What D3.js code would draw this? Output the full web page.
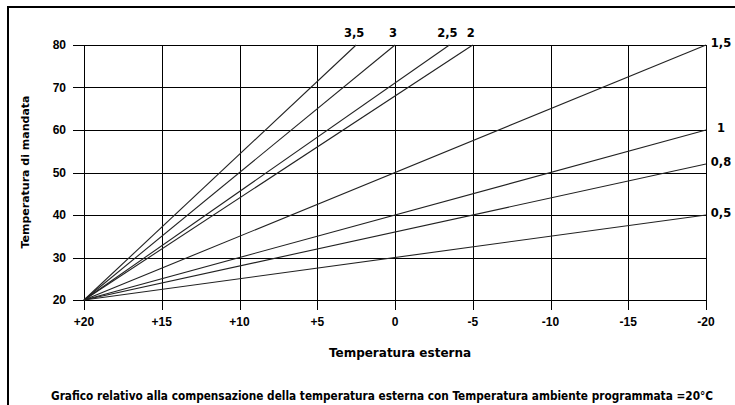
<!DOCTYPE html>
<html>
<head>
<meta charset="utf-8">
<script src="https://cdn.jsdelivr.net/npm/d3@7"></script>
<style>
  html, body { margin: 0; padding: 0; background: #fff; }
  text { font-family: "Liberation Sans", Arial, sans-serif; font-weight: bold; fill: #000; }
</style>
</head>
<body>
<figure id="chart" style="margin:0"></figure>
<script>
// curve labels and where each curve ends (external temp, flow temp)
const curveLabels = ["3,5", "3", "2,5", "2", "1,5", "1", "0,8", "0,5"];
const curveEndExt = [2.5, 0, -3.5, -5, -20, -20, -20, -20];
const curveEndFlow = [80, 80, 80, 80, 80, 60, 52, 40];
const startExt = 20;
const startFlow = 20;

const xTicks = [20, 15, 10, 5, 0, -5, -10, -15, -20];
const xTickLabels = ["+20", "+15", "+10", "+5", "0", "-5", "-10", "-15", "-20"];
const yTicks = [20, 30, 40, 50, 60, 70, 80];

const width = 735, height = 405;
const plotLeft = 84, plotRight = 706, plotTop = 45, plotBottom = 300;

const svg = d3.select("#chart")
  .append("svg")
  .attr("width", width)
  .attr("height", height);

// frame
svg.append("path")
  .attr("d", `M8,${height} L8,7 L${width},7`)
  .attr("fill", "none")
  .attr("stroke", "#000")
  .attr("stroke-width", 2);

const x = d3.scaleLinear().domain([20, -20]).range([plotLeft, plotRight]);
const y = d3.scaleLinear().domain([20, 80]).range([plotBottom, plotTop]);

// vertical grid
svg.append("g")
  .selectAll("line")
  .data(xTicks)
  .enter()
  .append("line")
  .attr("x1", d => Math.round(x(d)) + 0.5)
  .attr("x2", d => Math.round(x(d)) + 0.5)
  .attr("y1", plotTop)
  .attr("y2", plotBottom + 10)
  .attr("stroke", "#000");

// horizontal grid
svg.append("g")
  .selectAll("line")
  .data(yTicks)
  .enter()
  .append("line")
  .attr("x1", plotLeft - 11)
  .attr("x2", plotRight)
  .attr("y1", d => Math.round(y(d)) + 0.5)
  .attr("y2", d => Math.round(y(d)) + 0.5)
  .attr("stroke", "#000");

// x tick labels
svg.append("g")
  .selectAll("text")
  .data(xTicks)
  .enter()
  .append("text")
  .attr("x", d => x(d))
  .attr("y", 326)
  .attr("text-anchor", "middle")
  .style("font-size", "12px")
  .text((d, i) => xTickLabels[i]);

// y tick labels
svg.append("g")
  .selectAll("text")
  .data(yTicks)
  .enter()
  .append("text")
  .attr("x", 66)
  .attr("y", d => y(d) + 4)
  .attr("text-anchor", "end")
  .style("font-size", "12px")
  .text(d => d);

// curves
const curves = curveLabels.map((label, i) => ({
  label: label,
  ext: curveEndExt[i],
  flow: curveEndFlow[i]
}));

svg.append("g")
  .selectAll("line")
  .data(curves)
  .enter()
  .append("line")
  .attr("x1", x(startExt))
  .attr("y1", y(startFlow))
  .attr("x2", d => x(d.ext))
  .attr("y2", d => y(d.flow))
  .attr("stroke", "#222")
  .attr("stroke-width", 1.1);

// curve labels: on top if the curve hits 80, otherwise to the right
svg.append("g")
  .selectAll("text")
  .data(curves)
  .enter()
  .append("text")
  .attr("x", d => d.ext > -20 ? x(d.ext) - 2 : plotRight + 15)
  .attr("y", d => d.ext > -20 ? plotTop - 8 : y(d.flow) + 2)
  .attr("text-anchor", "middle")
  .style("font-family", "'DejaVu Sans', sans-serif")
  .style("font-size", "11.5px")
  .text(d => d.label);

// axis titles
svg.append("text")
  .attr("x", 400)
  .attr("y", 357)
  .attr("text-anchor", "middle")
  .style("font-family", "'DejaVu Sans', sans-serif")
  .style("font-size", "12px")
  .text("Temperatura esterna");

svg.append("text")
  .attr("transform", "translate(29,172) rotate(-90)")
  .attr("text-anchor", "middle")
  .style("font-family", "'DejaVu Sans', sans-serif")
  .style("font-size", "11px")
  .text("Temperatura di mandata");

svg.append("text")
  .attr("x", 51)
  .attr("y", 400)
  .attr("textLength", 662)
  .attr("lengthAdjust", "spacingAndGlyphs")
  .style("font-family", "'Liberation Sans Narrow', 'DejaVu Sans Condensed', sans-serif")
  .style("font-size", "12px")
  .text("Grafico relativo alla compensazione della temperatura esterna con Temperatura ambiente programmata =20°C");
</script>
</body>
</html>
